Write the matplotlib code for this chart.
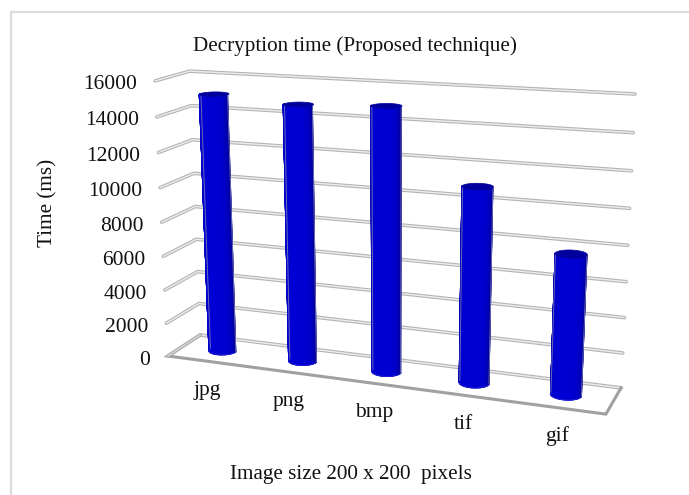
import matplotlib
matplotlib.use('Agg')
import matplotlib.pyplot as plt
from matplotlib.colors import LinearSegmentedColormap
import numpy as np

plt.rcParams['font.family'] = ['Liberation Serif', 'DejaVu Serif']

categories = ['jpg', 'png', 'bmp', 'tif', 'gif']
times = [15100, 14800, 15000, 11000, 7800]
y_ticks = [0, 2000, 4000, 6000, 8000, 10000, 12000, 14000, 16000]
title = 'Decryption time (Proposed technique)'
x_title = 'Image size 200 x 200  pixels'
y_title = 'Time (ms)'
Z_MAX = 16000.0

# (x, depth, z) -> pixel, box corners measured on the picture
corners = [
    ((0, 1, 0), (200, 335)), ((0, 1, 1), (190, 71)),
    ((1, 1, 1), (635, 94)), ((1, 1, 0), (621, 388)),
    ((0, 0, 0), (168, 356)), ((0, 0, 1), (155, 81)),
    ((1, 0, 0), (606, 414)),
]
A = []
b = []
for (x, d, z), (u, v) in corners:
    A.append([x, d, z, 1, 0, 0, 0, 0, -u*x, -u*d, -u*z])
    b.append(u)
    A.append([0, 0, 0, 0, x, d, z, 1, -v*x, -v*d, -v*z])
    b.append(v)
P = np.linalg.lstsq(np.array(A, float), np.array(b, float), rcond=None)[0]
P = np.append(P, 1).reshape(3, 4)


def project(x, d, z):
    x, d, z = np.broadcast_arrays(np.asarray(x, float), np.asarray(d, float), np.asarray(z, float))
    p = np.stack([x, d, z, np.ones_like(x)])
    q = np.tensordot(P, p, axes=1)
    return q[0]/q[2], q[1]/q[2]


fig = plt.figure(figsize=(6.89, 4.95), dpi=100)
ax = fig.add_axes([0, 0, 1, 1])
ax.set_xlim(0, 689)
ax.set_ylim(495, 0)
ax.axis('off')

# chart frame, only top and left show
ax.plot([11, 11, 689], [495, 12, 12], color='#dcdcdc', lw=1.6)

# gridlines on the two walls
for t in y_ticks:
    z = t/Z_MAX
    u, v = project([0, 0, 1], [0, 1, 1], [z, z, z])
    ax.plot(u, v, color='#b4b4b4', lw=2.6, solid_capstyle='round', solid_joinstyle='miter', zorder=1)
    ax.plot(u, v, color='#ececec', lw=1.0, solid_capstyle='round', solid_joinstyle='miter', zorder=1.1)

# floor
u, v = project([0, 0, 1, 1], [1, 0, 0, 1], [0, 0, 0, 0])
ax.plot(u, v, color='#a0a0a0', lw=2.2, solid_joinstyle='miter', zorder=1.2)
ax.plot(u[:2], v[:2], color='#cfcfcf', lw=1.4, zorder=1.3)

# cylinders
blues = LinearSegmentedColormap.from_list('blues', ['#000090', '#0000b4', '#0000cc', '#0000d4'])
theta = np.linspace(np.pi, 2*np.pi, 61)
full = np.linspace(0, 2*np.pi, 73)
RX = 0.0325
RD = 0.20
DEPTH = 0.5
for i, value in enumerate(times):
    xc = (i + 0.5)/len(times)
    z = value/Z_MAX
    cx = xc + RX*np.cos(theta)
    cd = DEPTH + RD*np.sin(theta)
    zs = np.linspace(0, z, 6)[:, None]*np.ones_like(cx)
    X, Y = project(cx*np.ones_like(zs), cd*np.ones_like(zs), zs)
    shade = np.sin(theta - np.pi)**0.8*np.ones_like(zs)
    ax.pcolormesh(X, Y, shade, shading='gouraud', cmap=blues, vmin=0, vmax=1, zorder=3)
    # rims, to soften the mesh edge
    ax.plot(X[:, 0], Y[:, 0], color='#6a6ab8', lw=0.7, zorder=3.2)
    ax.plot(X[:, -1], Y[:, -1], color='#6a6ab8', lw=0.7, zorder=3.2)
    ub, vb = project(xc + RX*np.cos(theta), cd, 0*cx)
    ax.plot(ub, vb, color='#1a1ad0', lw=0.8, zorder=3.2)
    ut, vt = project(xc + RX*np.cos(full), DEPTH + RD*np.sin(full), z + 0*full)
    ax.fill(ut, vt, color='#00009c', lw=0.5, zorder=3.3)

# tick labels
for t in y_ticks:
    u, v = project(0, 0, t/Z_MAX)
    ax.text(u - 18, v + 4, str(t), ha='right', va='center', fontsize=15.5, color='#111111')

for i, name in enumerate(categories):
    u, v = project((i + 0.5)/len(categories), 0, 0)
    ax.text(u, v + 33.5, name, ha='center', va='baseline', fontsize=15.5, color='#111111')

ax.text(355, 46.5, title, ha='center', va='center', fontsize=15.2, color='#111111')
ax.text(350.5, 474, x_title, ha='center', va='center', fontsize=15.2, color='#111111')
ax.text(48, 202.5, y_title, ha='center', va='center', rotation=90, fontsize=15.2, color='#111111')

fig.savefig('out.png', dpi=100)
